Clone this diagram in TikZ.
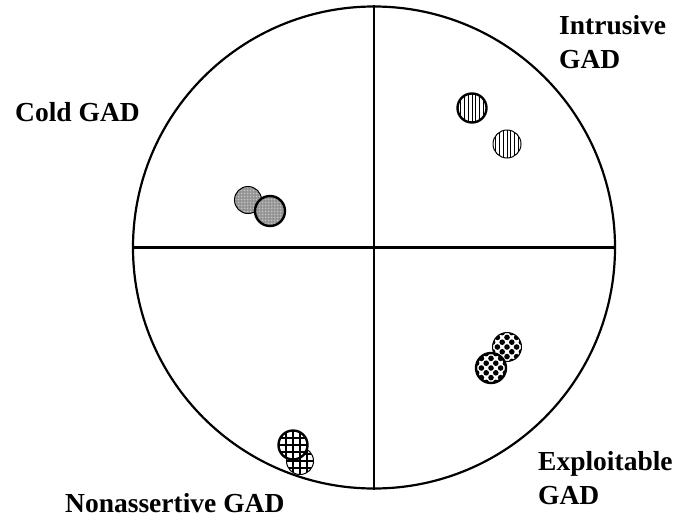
\documentclass[tikz,border=0pt]{standalone}
\usepackage{fontspec}
\setmainfont{Liberation Serif}
\usetikzlibrary{patterns}
\begin{document}
\begin{tikzpicture}[x=1pt,y=-1pt,
  lab/.style={font=\fontsize{27.5}{34}\selectfont\bfseries, inner sep=0pt, align=left},
  dot/.style={circle, draw=black, inner sep=0pt, minimum size=28pt, fill=white},
  thickrim/.style={line width=2.4pt},
  thinrim/.style={line width=1pt},
  grayfill/.style={path picture={
     \fill[gray!75] (path picture bounding box.south west) rectangle (path picture bounding box.north east);
     \fill[pattern=crosshatch dots, pattern color=gray!40] (path picture bounding box.south west) rectangle (path picture bounding box.north east);
     \fill[pattern=dots, pattern color=black!80] (path picture bounding box.south west) rectangle (path picture bounding box.north east);}},
  vlinefill/.style={path picture={
     \foreach \k in {-4,...,4}
       \draw[line width=0.7pt] ([xshift=3.8*\k pt, yshift=-20pt]path picture bounding box.center) -- ++(0,-40);}},
  checkfill/.style={path picture={
     \foreach \i in {-4,...,4}{\foreach \j in {-4,...,4}{
       \ifodd\numexpr\i+\j+8\relax\else
         \fill[black] ([xshift=4.8*\i pt, yshift=4.8*\j pt]path picture bounding box.center) circle (2.8pt);
       \fi}}}},
  gridfill/.style={path picture={
     \foreach \k in {-3,...,3}{
       \draw[line width=1.1pt] ([xshift=7*\k pt, yshift=-20pt]path picture bounding box.center) -- ++(0,-40);
       \draw[line width=1.1pt] ([yshift=7*\k pt, xshift=-20pt]path picture bounding box.center) -- ++(40,0);}}}
]
\useasboundingbox (0,0) rectangle (682,525);
\fill[white] (0,0) rectangle (682,525);

% small circles
\node[dot, grayfill, thinrim, minimum size=27pt] (c1) at (248,200) {};
\node[dot, grayfill, thickrim, minimum size=30pt] (c2) at (270,211) {};

\node[dot, vlinefill, thickrim, minimum size=29pt] (i1) at (472,108) {};
\node[dot, vlinefill, thinrim, minimum size=28pt] (i2) at (507,144) {};

\node[dot, checkfill, thinrim, minimum size=29pt] (e1) at (507,347) {};
\node[dot, checkfill, thickrim, minimum size=30pt] (e2) at (491,368) {};

\node[dot, gridfill, thinrim, minimum size=27pt] (n2) at (300,461) {};
\node[dot, gridfill, thickrim, minimum size=29pt] (n1) at (293,445) {};

% big circle and axes
\node[circle, draw, line width=2.2pt, minimum size=482pt, inner sep=0pt] (big) at (374,247.5) {};
\draw[line width=2.2pt] (big.north) -- (big.south);
\draw[line width=2.2pt] (big.west) -- (big.east);

% labels
\node[lab, anchor=base west] (cold) at (15,121) {Cold GAD};
\node[lab, anchor=base west] (intr) at (559,68) {Intrusive\\GAD};
\node[lab, anchor=base west] (expl) at (538,504) {Exploitable\\GAD};
\node[lab, anchor=base west] (nona) at (65,512) {Nonassertive GAD};
\end{tikzpicture}
\end{document}
